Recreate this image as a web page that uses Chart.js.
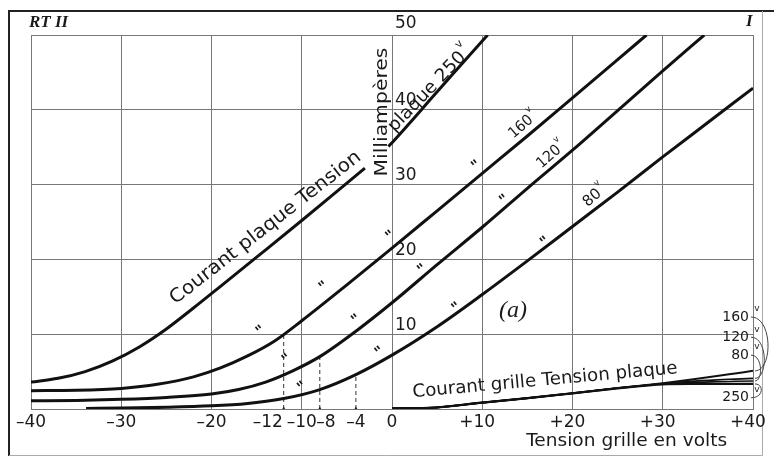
<!DOCTYPE html>
<html>
<head>
<meta charset="utf-8">
<script src="https://cdn.jsdelivr.net/npm/chart.js@4.4.1/dist/chart.umd.min.js"></script>
<style>
  body { margin: 0; background: #fff; }
  canvas { display: block; }
</style>
</head>
<body>
<canvas id="chart" width="774" height="457"></canvas>
<script>
// Courant plaque (mA) en fonction de la tension grille, pour 4 tensions plaque
const plateX250 = [-40, -37, -34, -31, -28, -25, -22, -19, -15, -10, -5, -3, -1.7, -0.4, 0, 5, 10, 10.6];
const plate250 = [3.6, 4.1, 5.0, 6.4, 8.3, 10.7, 13.5, 16.4, 20.3, 25.2, 30.2, 32.2, null, 35.1, 35.6, 42.4, 49.2, 50];

const plateX160 = [-40, -35, -30, -26, -22, -19, -16, -13, -10, -5, 0, 5, 10, 15, 20, 25, 28.2];
const plate160 = [2.45, 2.5, 2.75, 3.3, 4.3, 5.5, 7.1, 9.1, 11.8, 16.6, 21.5, 26.5, 31.5, 36.5, 41.6, 46.7, 50];

const plateX120 = [-40, -35, -30, -25, -20, -17, -14, -11, -8, -4, 0, 5, 10, 15, 20, 25, 30, 34.6];
const plate120 = [1.1, 1.15, 1.3, 1.55, 2.0, 2.6, 3.6, 5.1, 7.0, 10.4, 14.2, 19.3, 24.3, 29.5, 34.6, 39.9, 45.2, 50];

const plateX80 = [-33.9, -30, -25, -20, -16, -12, -8, -4, 0, 5, 10, 15, 20, 25, 30, 35, 40];
const plate80 = [0.08, 0.12, 0.22, 0.42, 0.75, 1.4, 2.6, 4.6, 7.2, 11.0, 15.3, 19.8, 24.4, 29.0, 33.7, 38.3, 42.9];

// Courant grille
const gridX = [0, 4, 10, 15, 20, 25, 30, 33, 36, 38, 40];
const grid160 = [0.1, 0.15, 0.85, 1.45, 2.1, 2.8, 3.45, 3.9, 4.4, 4.75, 5.1];
const grid120 = [0.1, 0.15, 0.85, 1.45, 2.1, 2.8, 3.4, 3.7, 3.9, 4.0, 4.1];
const grid80 = [0.1, 0.15, 0.85, 1.45, 2.1, 2.8, 3.35, 3.55, 3.65, 3.7, 3.75];
const grid250 = [0.1, 0.15, 0.85, 1.45, 2.1, 2.75, 3.3, 3.35, 3.35, 3.35, 3.35];

// repères en pointillé
const dashX = [-12, -8, -4];
const dashTop = [10.0, 7.0, 4.6];

// graduations
const xTickValues = [-40, -30, -20, -12, -10, -8, -4, 0, 10, 20, 30, 40];
const xTickLabels = ["–40", "–30", "–20", "–12", "–10", "–8", "–4", "0", "+10", "+20", "+30", "+40"];
const yTickValues = [10, 20, 30, 40, 50];

// étiquettes de droite (courant grille)
const rightLabels = ["160", "120", "80", "250"];
const rightLabelY = [12.3, 9.6, 7.2, 1.5];
const rightLabelEnd = [5.1, 4.1, 3.75, 3.35];

// guillemets le long des courbes
const dittoX = [-14.5, -7.5, -0.1, 9.4, -3.9, 3.4, 12.5, -1.3, 7.2, 17.0, -9.9, -11.6];
const dittoY = [10.4, 16.3, 23.1, 32.5, 11.9, 18.6, 27.9, 7.6, 13.5, 22.3, 2.9, 6.6];

function pts(xs, ys) {
  return xs.map((x, i) => ({ x: x, y: ys[i] }));
}

function curve(xs, ys, width) {
  return {
    data: pts(xs, ys),
    borderColor: "#111",
    borderWidth: width,
    cubicInterpolationMode: "monotone",
    pointRadius: 0,
    spanGaps: false,
  };
}

const datasets = [
  curve(plateX250, plate250, 3),
  curve(plateX160, plate160, 3),
  curve(plateX120, plate120, 3),
  curve(plateX80, plate80, 3),
  curve(gridX, grid160, 2),
  curve(gridX, grid120, 1.6),
  curve(gridX, grid80, 1.6),
  curve(gridX, grid250, 2.2),
];
dashX.forEach((x, i) => {
  datasets.push({
    data: [{ x: x, y: 0 }, { x: x, y: dashTop[i] }],
    borderColor: "#333",
    borderWidth: 1,
    borderDash: [4, 3],
    pointStyle: "triangle",
    pointRadius: [2.5, 0],
    pointBackgroundColor: "#222",
    pointBorderWidth: 0,
  });
});

function rotText(ctx, txt, x, y, deg, size, width, sup, family, style) {
  ctx.save();
  ctx.translate(x, y);
  ctx.rotate((deg * Math.PI) / 180);
  ctx.font = (style ? style + " " : "") + size + "px " + (family || '"DejaVu Sans"');
  const w = ctx.measureText(txt).width;
  if (width) ctx.scale(width / w, 1);
  ctx.textAlign = "center";
  ctx.textBaseline = "middle";
  ctx.fillText(txt, 0, 0);
  if (sup) {
    ctx.font = Math.round(size * 0.6) + 'px "DejaVu Sans"';
    ctx.textAlign = "left";
    ctx.fillText(sup, w / 2 + 1, -size * 0.55);
  }
  ctx.restore();
}

const paperPlugin = {
  id: "paper",
  beforeDraw(chart) {
    const ctx = chart.ctx;
    ctx.save();
    ctx.fillStyle = "#fff";
    ctx.fillRect(0, 0, chart.width, chart.height);
    // cadre
    ctx.strokeStyle = "#222";
    ctx.lineWidth = 2;
    ctx.beginPath();
    ctx.moveTo(9, 456);
    ctx.lineTo(9, 11);
    ctx.lineTo(774, 11);
    ctx.stroke();
    ctx.strokeStyle = "#aaa";
    ctx.lineWidth = 1;
    ctx.beginPath();
    ctx.moveTo(762.5, 11);
    ctx.lineTo(762.5, 455.5);
    ctx.lineTo(9, 455.5);
    ctx.stroke();
    ctx.restore();
  },
  afterDatasetsDraw(chart) {
    const ctx = chart.ctx;
    const xs = chart.scales.x;
    const ys = chart.scales.y;
    const X = (v) => xs.getPixelForValue(v);
    const Y = (v) => ys.getPixelForValue(v);
    ctx.save();
    ctx.fillStyle = "#1a1a1a";

    // graduations x
    ctx.font = '17px "DejaVu Sans"';
    ctx.textBaseline = "middle";
    const nudge = { "–12": -16, "–8": 6 };
    xTickValues.forEach((v, i) => {
      const lab = xTickLabels[i];
      let dx = nudge[lab] || 0;
      if (v > 0) dx = -5;
      ctx.textAlign = "center";
      ctx.fillText(lab, X(v) + dx, Y(0) + 14);
    });
    // graduations y, à droite de l'axe 0
    ctx.textAlign = "left";
    yTickValues.forEach((v) => {
      ctx.fillText(String(v), X(0) + 3, Y(v) - (v === 50 ? 11 : 9));
    });

    // textes des courbes
    rotText(ctx, "Courant plaque Tension", X(-14.0), Y(24.2), -38, 19, 237);
    rotText(ctx, "plaque 250", X(3.9), Y(42.4), -46, 18, 104, "v");
    rotText(ctx, "Milliampères", X(-1.1), Y(39.7), -90, 18, 129);
    rotText(ctx, "160", X(14.3), Y(37.7), -41, 15, 27, "v");
    rotText(ctx, "120", X(17.4), Y(33.7), -41, 15, 27, "v");
    rotText(ctx, "80", X(22.2), Y(28.2), -41, 15, 19, "v");
    rotText(ctx, "Courant grille Tension plaque", X(16.95), Y(3.8), -5.2, 18, 266);
    rotText(ctx, "Tension grille en volts", X(26.0), Y(-4.3), 0, 17, 201);
    rotText(ctx, "(a)", X(13.4), Y(13.1), 0, 24, 0, null, '"Liberation Serif"', "italic");

    // guillemets
    dittoX.forEach((v, i) => rotText(ctx, "\"", X(v), Y(dittoY[i]), -40, 15, 0, null, null, "bold"));

    // étiquettes de droite + accolades
    ctx.strokeStyle = "#444";
    ctx.lineWidth = 1;
    const bulge = [773, 768, 763, 764];
    rightLabels.forEach((lab, i) => {
      const ly = Y(rightLabelY[i]);
      const ey = Y(rightLabelEnd[i]);
      ctx.textAlign = "right";
      ctx.font = '14px "DejaVu Sans"';
      ctx.fillText(lab, 749, ly);
      ctx.textAlign = "center";
      ctx.font = '9px "DejaVu Sans"';
      ctx.fillText("v", 757, ly - 8);
      ctx.beginPath();
      ctx.moveTo(751, ly);
      ctx.bezierCurveTo(bulge[i], ly, bulge[i], ey, 755, ey);
      ctx.stroke();
    });

    // titres
    ctx.textAlign = "left";
    ctx.textBaseline = "middle";
    ctx.font = 'italic bold 17px "Liberation Serif"';
    ctx.fillText("RT II", 29, 23);
    ctx.fillText("I", 746, 22);
    ctx.restore();
  },
};

const gridLine = { color: "#777", lineWidth: 1, drawTicks: false };

new Chart(document.getElementById("chart"), {
  type: "line",
  data: { datasets: datasets },
  options: {
    responsive: false,
    animation: false,
    layout: { padding: { left: 31, right: 21, top: 35, bottom: 48 } },
    plugins: { legend: { display: false }, tooltip: { enabled: false } },
    scales: {
      x: {
        type: "linear",
        min: -40,
        max: 40,
        ticks: { display: false, stepSize: 10 },
        grid: gridLine,
        border: { color: "#777" },
      },
      y: {
        min: 0,
        max: 50,
        ticks: { display: false, stepSize: 10 },
        grid: gridLine,
        border: { color: "#777" },
      },
    },
  },
  plugins: [paperPlugin],
});
</script>
</body>
</html>
